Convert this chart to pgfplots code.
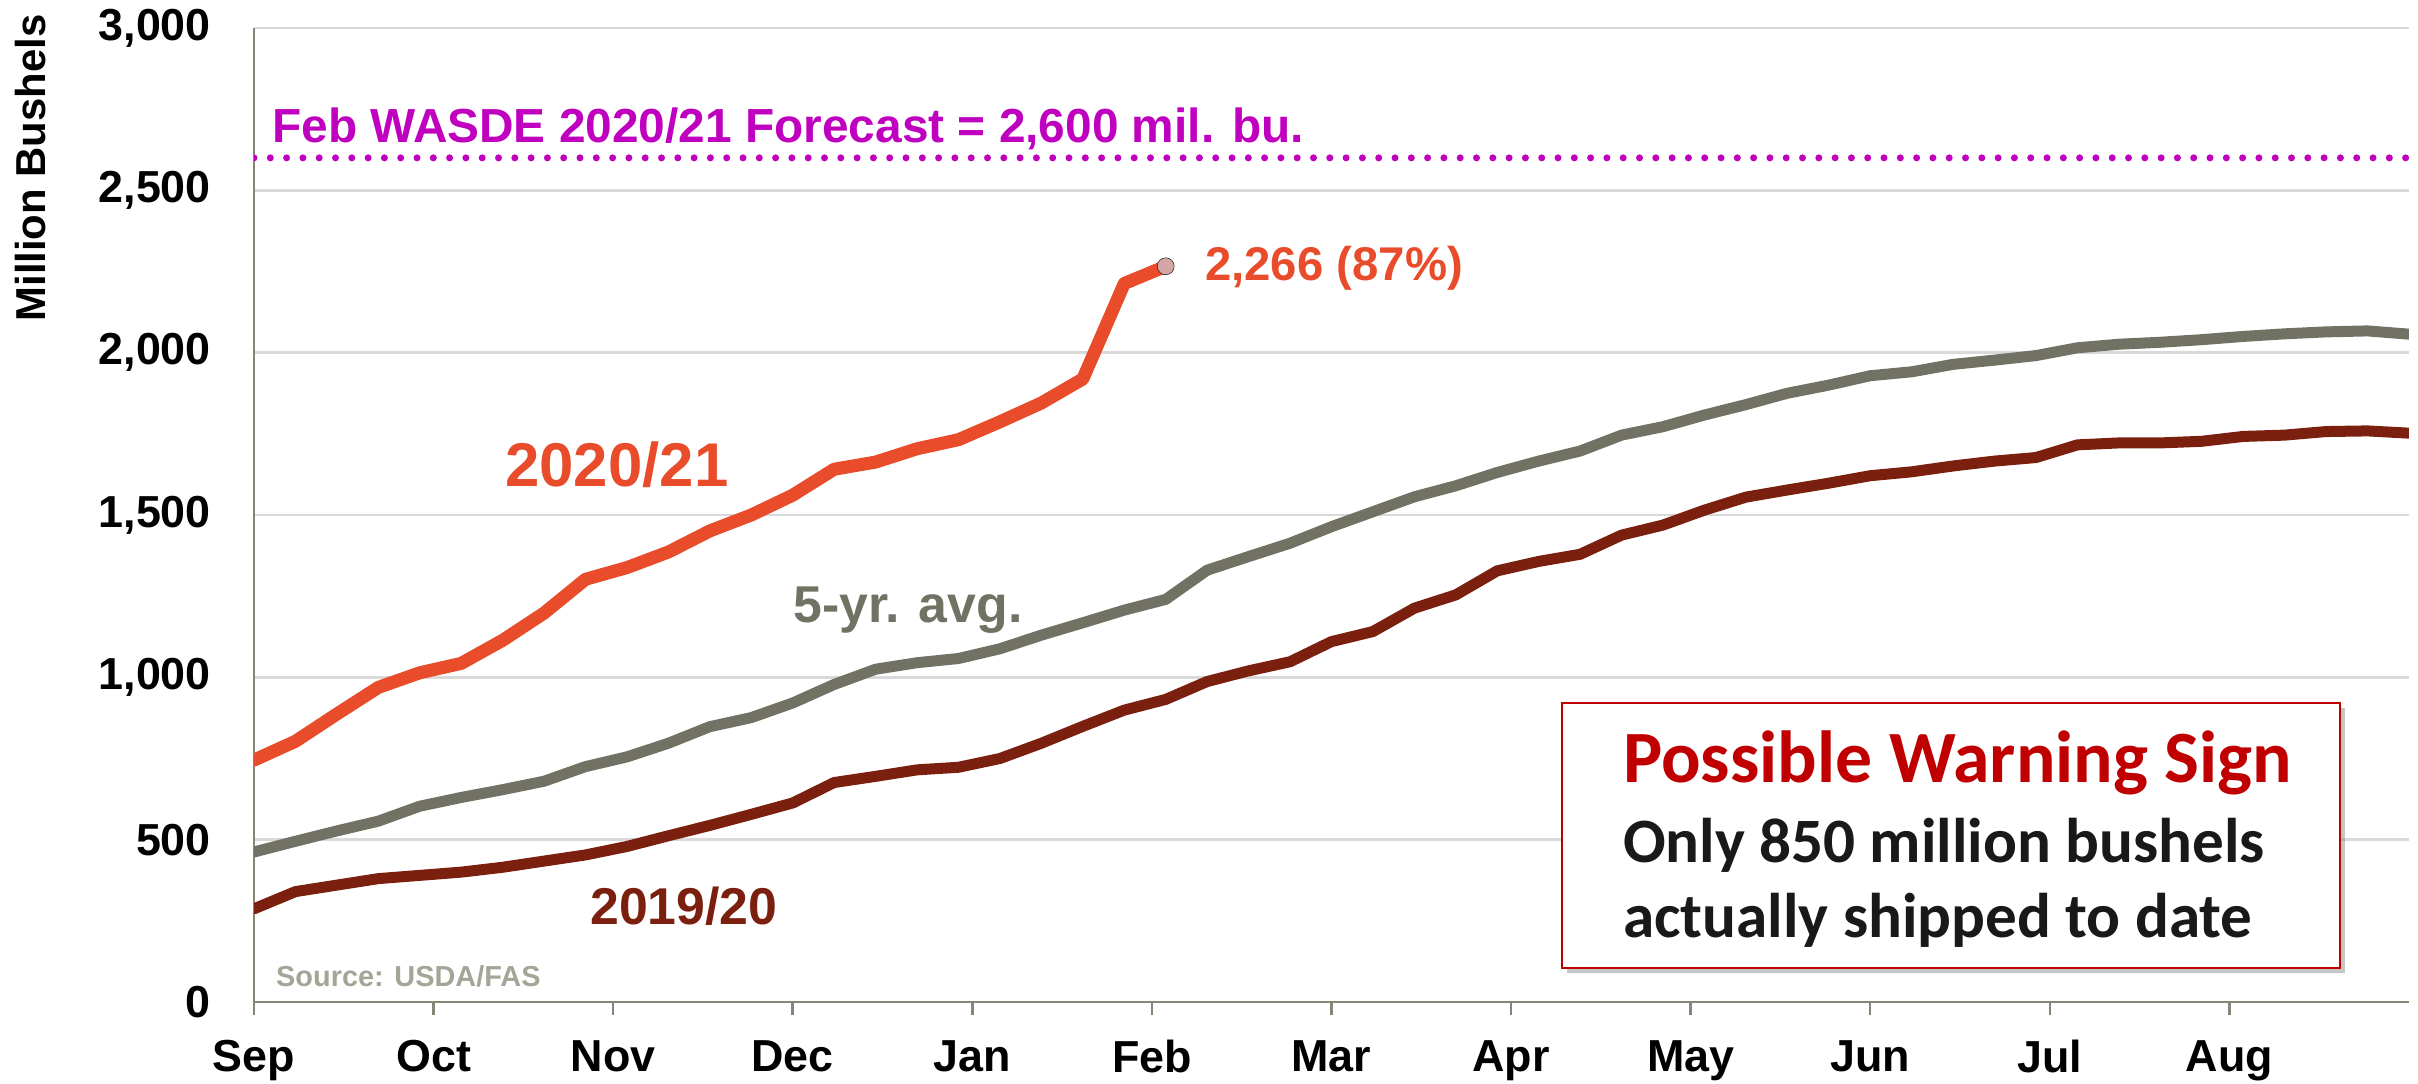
\documentclass[border=0pt]{standalone}
\usepackage{fontspec}
\setmainfont{Liberation Sans}
\newfontfamily\carlito{Carlito}
\usepackage{pgfplots}
\pgfplotsset{compat=1.18}
\usetikzlibrary{shadows}

\definecolor{cRed}{HTML}{E84C2B}
\definecolor{cGray}{HTML}{727264}
\definecolor{cDark}{HTML}{7B1F0E}
\definecolor{cMag}{HTML}{BF00BF}
\definecolor{cAxis}{HTML}{868676}
\definecolor{cGrid}{HTML}{D9D9D9}
\definecolor{cSrc}{HTML}{A5A597}
\definecolor{cWarn}{HTML}{C00000}
\definecolor{cDot}{HTML}{D3A5A5}

\begin{document}
\begin{tikzpicture}
\useasboundingbox (0,0) rectangle (2418bp,1084bp);
\begin{axis}[
  at={(254bp,82bp)}, anchor=south west,
  scale only axis, width=2155bp, height=974bp,
  xmin=0, xmax=52, ymin=0, ymax=3000,
  axis x line*=bottom, axis y line*=left,
  axis line style={draw=cAxis, line width=2.5bp, -},
  xtick={0,4.3333,8.6667,13,17.3333,21.6667,26,30.3333,34.6667,39,43.3333,47.6667},
  xticklabels={Sep,Oct,Nov,Dec,Jan,Feb,Mar,Apr,May,Jun,Jul,Aug},
  ytick={0,500,1000,1500,2000,2500,3000},
  yticklabels={0,500,{1,000},{1,500},{2,000},{2,500},{3,000}},
  xtick pos=bottom, ytick pos=left,
  tick align=outside,
  major tick length=13bp,
  xtick style={draw=cAxis, line width=2.5bp},
  ytick style={draw=none},
  ymajorgrids, grid style={draw=cGrid, line width=2.5bp},
  ticklabel style={font=\fontsize{45}{50}\selectfont\bfseries, inner sep=0pt, text=black},
  xticklabel style={anchor=north, yshift=-25bp},
  yticklabel style={anchor=east, xshift=-30bp},
]
% WASDE forecast
\addplot[cMag, line width=7bp, line cap=round, dash pattern=on 0bp off 16.3bp] coordinates {(0,2600) (52,2600)};
% 2019/20
\addplot[cDark, line width=11bp, line cap=round, line join=round] coordinates {
(0,287) (1,340) (2,360) (3,380) (4,390) (5,400) (6,415) (7,434) (8,453) (9,479)
(10,512) (11,544) (12,578) (13,613) (14,676) (15,695) (16,715) (17,723) (18,750) (19,797)
(20,849) (21,899) (22,932) (23,987) (24,1020) (25,1048) (26,1110) (27,1141) (28,1213) (29,1254)
(30,1328) (31,1357) (32,1379) (33,1438) (34,1469) (35,1515) (36,1555) (37,1577) (38,1598) (39,1621)
(40,1633) (41,1651) (42,1666) (43,1677) (44,1716) (45,1722) (46,1722) (47,1727) (48,1742) (49,1746)
(50,1757) (51,1759) (52,1752)};
% 5-yr avg
\addplot[cGray, line width=11bp, line cap=round, line join=round] coordinates {
(0,462) (1,495) (2,527) (3,557) (4,603) (5,630) (6,654) (7,680) (8,725) (9,755)
(10,797) (11,848) (12,876) (13,921) (14,978) (15,1025) (16,1045) (17,1058) (18,1088) (19,1130)
(20,1168) (21,1207) (22,1240) (23,1330) (24,1372) (25,1413) (26,1464) (27,1510) (28,1556) (29,1590)
(30,1631) (31,1666) (32,1697) (33,1746) (34,1772) (35,1808) (36,1840) (37,1875) (38,1900) (39,1929)
(40,1941) (41,1964) (42,1977) (43,1991) (44,2015) (45,2026) (46,2032) (47,2040) (48,2050) (49,2058)
(50,2064) (51,2067) (52,2057)};
% 2020/21
\addplot[cRed, line width=13bp, line cap=round, line join=round] coordinates {
(0,745) (1,803) (2,887) (3,969) (4,1014) (5,1043) (6,1114) (7,1198) (8,1302) (9,1338)
(10,1386) (11,1451) (12,1500) (13,1561) (14,1641) (15,1663) (16,1704) (17,1732) (18,1787) (19,1845)
(20,1919) (21,2213) (22,2266)};
\addplot[only marks, mark=*, mark size=8.5bp, mark options={draw=none, fill=cDot}] coordinates {(22,2266)};
\end{axis}

\begin{scope}[every node/.style={inner sep=0pt}]
\node[rotate=90, font=\fontsize{42}{48}\selectfont\bfseries] at (31bp,916bp) {Million Bushels};
\node[anchor=base west, text=cMag, font=\fontsize{48}{56}\selectfont\bfseries] at (272bp,941bp) {Feb WASDE 2020/21 Forecast = 2,600 mil. bu.};
\node[anchor=base west, text=cRed, font=\fontsize{47.5}{56}\selectfont\bfseries] at (1205bp,803bp) {2,266 (87\%)};
\node[anchor=base west, text=cRed, font=\fontsize{62}{70}\selectfont\bfseries] at (505bp,597bp) {2020/21};
\node[anchor=base west, text=cGray, font=\fontsize{52}{60}\selectfont\bfseries] at (793bp,461bp) {5-yr. avg.};
\node[anchor=base west, text=cDark, font=\fontsize{52}{60}\selectfont\bfseries] at (590bp,159bp) {2019/20};
\node[anchor=base west, text=cSrc, font=\fontsize{29}{34}\selectfont\bfseries] at (276bp,97bp) {Source: USDA/FAS};
\draw[draw=cWarn, line width=2.5bp, fill=white, drop shadow={shadow xshift=5bp, shadow yshift=-5bp, opacity=0.45}] (1562bp,116bp) rectangle (2340bp,381bp);
\node[anchor=base west, text=cWarn, font=\carlito\fontsize{74}{80}\selectfont\bfseries] at (1623bp,301bp) {Possible Warning Sign};
\node[anchor=base west, text=black!90, font=\carlito\fontsize{63.4}{70}\selectfont\bfseries] at (1623bp,221bp) {Only 850 million bushels};
\node[anchor=base west, text=black!90, font=\carlito\fontsize{63.4}{70}\selectfont\bfseries] at (1623bp,146bp) {actually shipped to date};
\end{scope}
\end{tikzpicture}
\end{document}
